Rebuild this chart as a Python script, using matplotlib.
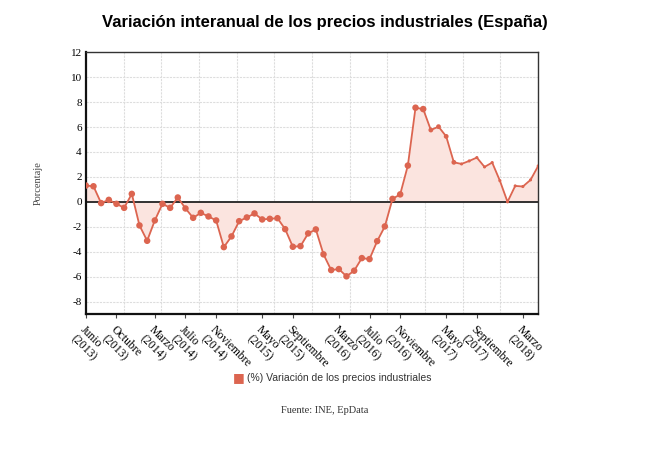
import numpy as np
import matplotlib.pyplot as plt

plt.rcParams["axes.unicode_minus"] = False

# monthly values, Jun 2013 .. May 2018
valores = [1.31, 1.25, -0.10, 0.16, -0.16, -0.48, 0.64, -1.89, -3.12, -1.49,
           -0.16, -0.48, 0.35, -0.53, -1.28, -0.88, -1.17, -1.49, -3.63, -2.77,
           -1.55, -1.25, -0.93, -1.41, -1.36, -1.31, -2.19, -3.60, -3.55, -2.53,
           -2.21, -4.21, -5.47, -5.39, -5.97, -5.52, -4.51, -4.59, -3.15, -1.97,
           0.24, 0.60, 2.91, 7.55, 7.44, 5.76, 6.03, 5.25, 3.17, 3.04,
           3.28, 3.55, 2.80, 3.15, 1.70, 0.00, 1.28, 1.23, 1.76, 2.88]
tick_pos = [0, 4, 9, 13, 17, 23, 27, 33, 37, 41, 47, 51, 57]
tick_labels = ["Junio\n(2013)", "Octubre\n(2013)", "Marzo\n(2014)", "Julio\n(2014)",
               "Noviembre\n(2014)", "Mayo\n(2015)", "Septiembre\n(2015)", "Marzo\n(2016)",
               "Julio\n(2016)", "Noviembre\n(2016)", "Mayo\n(2017)", "Septiembre\n(2017)",
               "Marzo\n(2018)"]

color = "#dc6550"
x = np.arange(len(valores))
# markers in the reference shrink towards the end of the series
sizes = np.where(x <= 44, 22, np.where(x <= 48, 12, 5))

fig = plt.figure(figsize=(6.5, 4.5), dpi=100)
ax = fig.add_axes([0.132, 0.302, 0.696, 0.582])

ax.fill_between(x, valores, 0, color="#fbe4df", lw=0)
ax.plot(x, valores, color=color, lw=1.3, zorder=3)
ax.scatter(x, valores, s=sizes, color=color, zorder=4, lw=0)
ax.axhline(0, color="#222222", lw=1.3, zorder=2)

ax.set_xlim(0, len(valores) - 1)
ax.set_ylim(-9, 12)
ax.set_yticks(range(-8, 13, 2))
ax.set_xticks(tick_pos)
ax.set_xticklabels(tick_labels, rotation=-45, ha="left", va="top",
                   rotation_mode="anchor", family="Liberation Serif", fontsize=8.5,
                   linespacing=1.1)
for lab in ax.get_yticklabels():
    lab.set_family("Liberation Serif")
    lab.set_fontsize(8)
ax.set_xticks(np.linspace(0, len(valores) - 1, 13), minor=True)
ax.tick_params(axis="x", which="minor", length=0)
ax.tick_params(axis="x", which="major", length=3, color="#444444", pad=4)
ax.tick_params(axis="y", length=0, pad=3)
ax.grid(True, axis="x", which="minor", color="#dddddd", ls=(0, (2, 1)), lw=0.8)
ax.grid(True, axis="y", which="major", color="#dddddd", ls=(0, (2, 1)), lw=0.8)
ax.set_axisbelow(True)

for s in ["left", "bottom"]:
    ax.spines[s].set_linewidth(1.6)
    ax.spines[s].set_color("#111111")
for s in ["top", "right"]:
    ax.spines[s].set_linewidth(1.0)
    ax.spines[s].set_color("#333333")

ax.set_ylabel("Porcentaje", family="Liberation Serif", fontsize=7.5, color="#444444",
              labelpad=20)

fig.text(0.5, 0.951, "Variación interanual de los precios industriales (España)",
         ha="center", va="center", fontsize=12, fontweight="bold",
         family="Liberation Sans")

fig.text(0.368, 0.16, "\u25A0", ha="center", va="center", color=color, fontsize=9)
fig.text(0.38, 0.16, "(%) Variación de los precios industriales", ha="left",
         va="center", fontsize=7.5, family="Liberation Sans", color="#333333")
fig.text(0.5, 0.088, "Fuente: INE, EpData", ha="center", va="center", fontsize=7.5,
         family="Liberation Serif", color="#333333")

fig.savefig("out.png", dpi=100)
